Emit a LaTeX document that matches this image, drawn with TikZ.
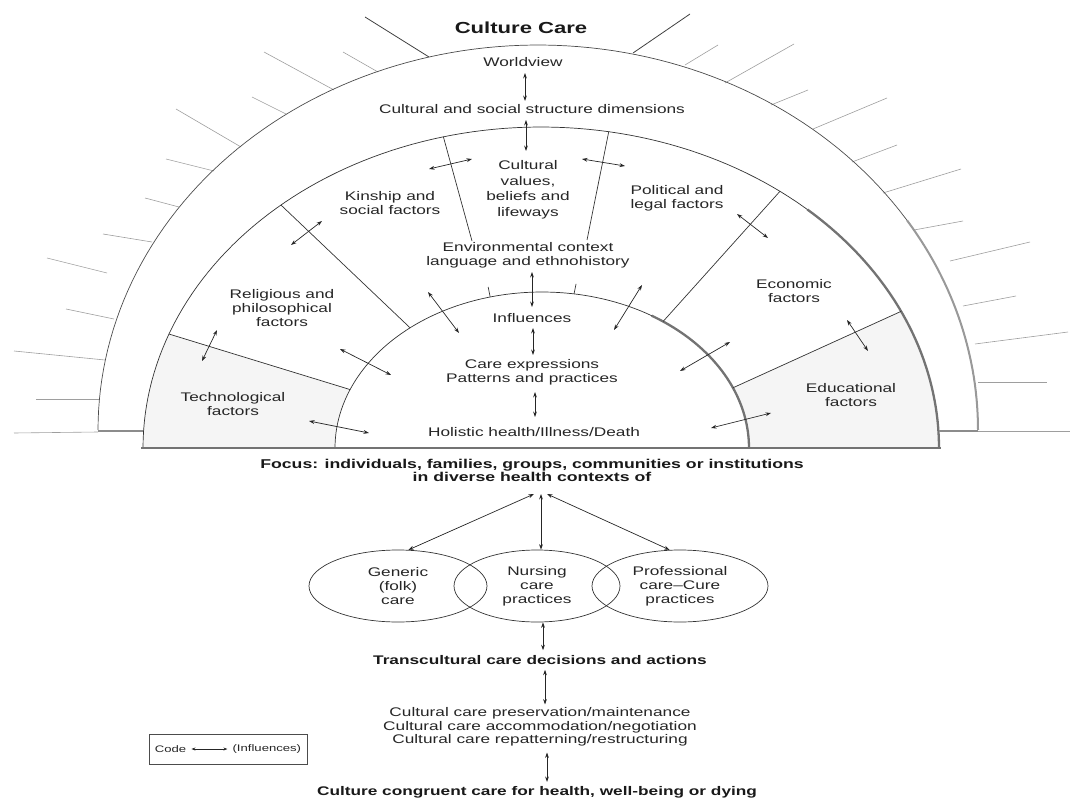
\documentclass[tikz,border=0pt]{standalone}
\usepackage{fontspec}
\setmainfont{Liberation Sans}[FakeStretch=1.38]
\usetikzlibrary{arrows.meta,shapes.geometric,calc}
\begin{document}
\begin{tikzpicture}[x=1pt,y=-1pt,
  txt/.style={font=\fontsize{12.5}{14}\selectfont, align=center, inner sep=0pt, text=black!85},
  btxt/.style={font=\fontsize{12.5}{13}\selectfont\bfseries, align=center, inner sep=0pt, text=black!90},
  infl/.style={<->, >={Stealth[length=5.5pt,width=3.8pt]}, line width=0.7pt, black!85},
  edge/.style={line width=0.7pt, black!80},
  heavy/.style={line width=2.3pt, black!55},
  ray/.style={line width=0.6pt, black!38},
  dray/.style={line width=0.8pt, black!75},
  carebox/.style={ellipse, draw, line width=0.7pt, black!80, minimum height=72pt, inner sep=0pt, txt}
]
\useasboundingbox (0,0) rectangle (1070,802);

% ---------- light shading of the lower sectors ----------
\fill[black!4] plot[domain=159.2:180, samples=30] ({541+398*cos(\x)},{448-321*sin(\x)})
   -- plot[domain=180:158, samples=30] ({542+207*cos(\x)},{448-156*sin(\x)}) -- cycle;
\fill[black!4] plot[domain=0:25.2, samples=30] ({541+398*cos(\x)},{448-321*sin(\x)})
   -- plot[domain=22.7:0, samples=30] ({542+207*cos(\x)},{448-156*sin(\x)}) -- cycle;

% ---------- rays ----------
\draw[dray] (429,57) -- (365,17);
\draw[ray] (378,72) -- (343,52);
\draw[ray] (334,90) -- (264,52);
\draw[ray] (286,114) -- (252,97);
\draw[ray] (241,147) -- (176,109);
\draw[ray] (214,171) -- (166,159);
\draw[ray] (179,207) -- (145,198);
\draw[ray] (152,242) -- (103,234);
\draw[ray] (107,273) -- (47,258);
\draw[ray] (114,319) -- (66,309);
\draw[ray] (105,360) -- (14,351);
\draw[ray] (100,399) -- (36,399);
\draw[ray] (98,432) -- (14,433);
\draw[dray] (633,53) -- (690,14);
\draw[ray] (685,65) -- (718,45);
\draw[ray] (725,83) -- (794,44);
\draw[ray] (771,105) -- (808,90);
\draw[ray] (813,129) -- (887,98);
\draw[ray] (852,162) -- (897,145);
\draw[ray] (883,193) -- (961,169);
\draw[ray] (914,230) -- (963,221);
\draw[ray] (950,261) -- (1030,242);
\draw[ray] (963,306) -- (1016,296);
\draw[ray] (975,344) -- (1068,332);
\draw[ray] (978,382) -- (1047,382);
\draw[ray] (978,431) -- (1071,431);

% ---------- arcs ----------
\draw[edge, black!70] plot[domain=0:180, samples=120] ({538+440*cos(\x)},{430-385*sin(\x)});
\draw[heavy, black!40, line width=2pt] plot[domain=0:33, samples=30] ({538+440*cos(\x)},{430-385*sin(\x)});
\draw[edge] plot[domain=0:180, samples=120] ({541+398*cos(\x)},{448-321*sin(\x)});
\draw[heavy] plot[domain=0:48, samples=40] ({541+398*cos(\x)},{448-321*sin(\x)});
\draw[edge] plot[domain=0:180, samples=100] ({542+207*cos(\x)},{448-156*sin(\x)});
\draw[heavy] plot[domain=0:58, samples=40] ({542+207*cos(\x)},{448-156*sin(\x)});
% steps and base
\draw[heavy, black!45] (98,431) -- (143,431);
\draw[heavy, black!45] (939,431) -- (978,431);
\draw[heavy, line width=2.6pt] (141,448) -- (941,448);

% ---------- sector dividers ----------
\coordinate (mA) at ({541+398*cos(104.2)},{448-321*sin(104.2)});
\coordinate (eA) at (472,241);
\coordinate (mB) at ({541+398*cos(130.8)},{448-321*sin(130.8)});
\coordinate (iB) at ({542+207*cos(129.6)},{448-156*sin(129.6)});
\coordinate (mC) at ({541+398*cos(159.2)},{448-321*sin(159.2)});
\coordinate (iC) at ({542+207*cos(158)},{448-156*sin(158)});
\coordinate (mD) at ({541+398*cos(80.2)},{448-321*sin(80.2)});
\coordinate (eD) at (587,240);
\coordinate (mE) at ({541+398*cos(53.1)},{448-321*sin(53.1)});
\coordinate (iE) at ({542+207*cos(54.2)},{448-156*sin(54.2)});
\coordinate (mF) at ({541+398*cos(25.2)},{448-321*sin(25.2)});
\coordinate (iF) at ({542+207*cos(22.7)},{448-156*sin(22.7)});
\coordinate (t1) at ({542+207*cos(104.5)},{448-156*sin(104.5)});
\coordinate (t2) at ({542+207*cos(81.1)},{448-156*sin(81.1)});
\draw[edge] (mA) -- (eA);
\draw[edge] (mB) -- (iB);
\draw[edge] (mC) -- (iC);
\draw[edge] (mD) -- (eD);
\draw[edge] (mE) -- (iE);
\draw[edge] (mF) -- (iF);
\draw[edge] (t1) -- ++(-2,-10);
\draw[edge] (t2) -- ++(2,-10);

% ---------- texts in the sunrise ----------
\node[btxt, font=\fontsize{16}{18}\selectfont\bfseries] (title) at (521,28) {Culture Care};
\node[txt] (world) at (523,62) {Worldview};
\node[txt] (csd) at (532,109) {Cultural and social structure dimensions};
\node[txt, font=\fontsize{12.5}{15.5}\selectfont] (cvbl) at (528,190) {Cultural\\values,\\beliefs and\\lifeways};
\node[txt] (kin) at (390,203) {Kinship and\\social factors};
\node[txt] (pol) at (677,198) {Political and\\legal factors};
\node[txt] (env) at (528,255) {Environmental context\\language and ethnohistory};
\node[txt] (rel) at (282,308) {Religious and\\philosophical\\factors};
\node[txt] (tech) at (233,404) {Technological\\factors};
\node[txt] (econ) at (794,291) {Economic\\factors};
\node[txt] (edu) at (851,395) {Educational\\factors};
\node[txt] (inf) at (532,318) {Influences};
\node[txt] (care) at (532,372) {Care expressions\\Patterns and practices};
\node[txt] (hol) at (534,432) {Holistic health/Illness/Death};

% ---------- influence arrows in the sunrise ----------
\draw[infl] (525,73) -- (525,101);
\draw[infl] (526,120) -- (526,151);
\draw[infl] (532,272) -- (532,307);
\draw[infl] (533,328) -- (533,355);
\draw[infl] (535,392) -- (535,417);
\draw[infl] (429,169) -- (472,159);
\draw[infl] (582,159) -- (625,166);
\draw[infl] (291,245) -- (322,221);
\draw[infl] (737,214) -- (768,238);
\draw[infl] (428,292) -- (459,333);
\draw[infl] (217,330) -- (202,361);
\draw[infl] (340,349) -- (391,375);
\draw[infl] (309,421) -- (369,433);
\draw[infl] (642,285) -- (614,330);
\draw[infl] (847,320) -- (868,351);
\draw[infl] (730,342) -- (680,371);
\draw[infl] (771,413) -- (711,428);

% ---------- lower part ----------
\node[btxt, font=\fontsize{12.8}{13}\selectfont\bfseries] (focus) at (532,470) {Focus: individuals, families, groups, communities or institutions\\in diverse health contexts of};
\node[carebox, minimum width=178pt] (gen) at (398,586) {Generic\\(folk)\\care};
\node[carebox, minimum width=166pt] (nur) at (537,586) {Nursing\\care\\practices};
\node[carebox, minimum width=176pt] (pro) at (680,586) {Professional\\care--Cure\\practices};
\coordinate (fl) at (534,494);
\coordinate (fm) at (541,494);
\coordinate (fr) at (547,494);
\draw[infl] (fl) -- (gen.74);
\draw[infl] (fm) -- (nur.north -| fm);
\draw[infl] (fr) -- (pro.106);

\node[btxt] (trans) at (540,660) {Transcultural care decisions and actions};
\node[txt, font=\fontsize{12.5}{13.5}\selectfont] (acts) at (540,727) {Cultural care preservation/maintenance\\Cultural care accommodation/negotiation\\Cultural care repatterning/restructuring};
\node[btxt] (cong) at (537,792) {Culture congruent care for health, well-being or dying};
\draw[infl] ($(nur.south)+(6,0)$) -- ($(trans.north)+(3,-5)$);
\draw[infl] ($(trans.south)+(5,5)$) -- ($(acts.north)+(5,-3)$);
\draw[infl] ($(acts.south)+(7,6)$) -- ($(cong.north)+(10,-4)$);

% ---------- code box ----------
\node[draw, line width=0.6pt, black!70, minimum width=158pt, minimum height=30pt, inner sep=0pt] (codebox) at (228,749) {};
\node[txt, font=\fontsize{9.5}{11}\selectfont, anchor=west] (codelbl) at ($(codebox.west)+(6,0)$) {Code};
\node[txt, font=\fontsize{9.5}{11}\selectfont, anchor=east] (infllbl) at ($(codebox.east)+(-6,0)$) {(Influences)};
\draw[infl, >={Stealth[length=4pt,width=3pt]}] ($(codelbl.east)+(5,0)$) -- ($(infllbl.west)+(-5,0)$);
\end{tikzpicture}
\end{document}
